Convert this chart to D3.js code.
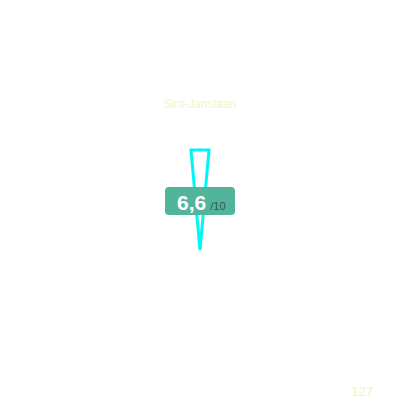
<!DOCTYPE html>
<html lang="en">
  <head>
    <meta charset="utf-8">
    <title>Gauge</title>
    <style>
      body { margin: 0; background: #fff; }
      svg { display: block; font-family: "Liberation Sans", Arial, sans-serif; }
    </style>
  </head>
  <body>
    <svg id="chart"></svg>
    <script src="https://cdn.jsdelivr.net/npm/d3@7"></script>
    <script>
      var title = "Sint-Janslaan";
      var value = 6.6;
      var maxValue = 10;
      var count = 127;

      var width = 400, height = 400;
      var cx = 200, cy = 200;

      var svg = d3.select("#chart")
          .attr("width", width)
          .attr("height", height);

      // needle runs from 0 (tip, bottom) to max (wide end, top)
      var y = d3.scaleLinear()
          .domain([0, maxValue])
          .range([cy + 50, cy - 50]);

      var half = 9;
      var pts = [
        [cx - half, y(maxValue)],
        [cx + half, y(maxValue)],
        [cx, y(0)]
      ];

      svg.append("polygon")
          .attr("points", pts.map(function(p) { return p.join(","); }).join(" "))
          .attr("fill", "none")
          .attr("stroke", "#00f5f5")
          .attr("stroke-width", 3)
          .attr("stroke-linejoin", "miter");

      svg.append("text")
          .attr("x", cx)
          .attr("y", 108)
          .attr("text-anchor", "middle")
          .attr("font-size", 12)
          .attr("fill", "#eef7c6")
          .text(title);

      // value label
      svg.append("rect")
          .attr("x", 165)
          .attr("y", 187)
          .attr("width", 70)
          .attr("height", 28)
          .attr("rx", 4)
          .attr("fill", "#52b59b");

      var fmt = d3.format(".1f");
      var lab = svg.append("text")
          .attr("x", 177)
          .attr("y", 210)
          .attr("fill", "#fff");
      lab.append("tspan")
          .attr("font-size", 21)
          .attr("font-weight", "bold")
          .text(fmt(value).replace(".", ","));
      lab.append("tspan")
          .attr("dx", 4)
          .attr("font-size", 11)
          .attr("fill", "#2f5a4c")
          .text("/" + maxValue);

      svg.append("text")
          .attr("x", 373)
          .attr("y", 396)
          .attr("text-anchor", "end")
          .attr("font-size", 13)
          .attr("fill", "#eaf6bd")
          .text(count);
    </script>
  </body>
</html>
